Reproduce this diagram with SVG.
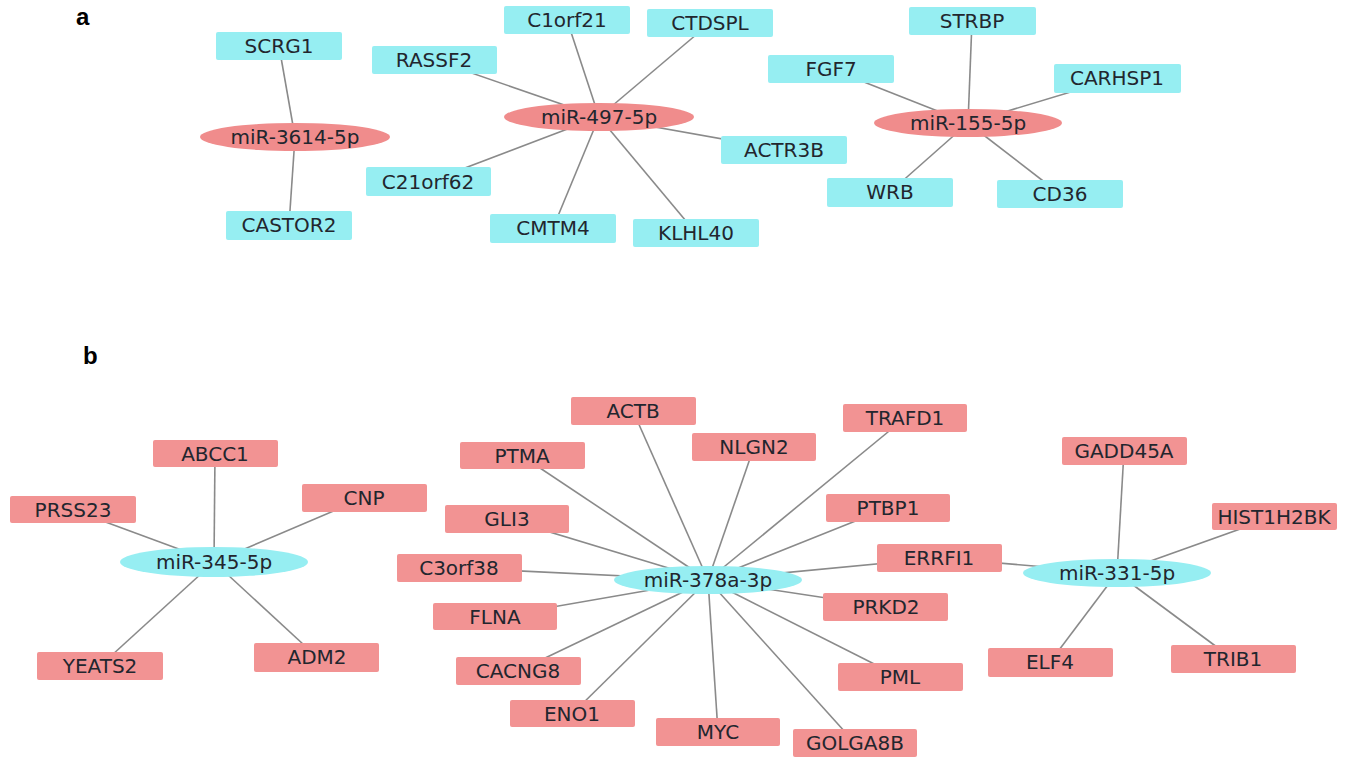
<svg xmlns="http://www.w3.org/2000/svg" width="1348" height="757" viewBox="0 0 1348 757">
<style>
.bg{fill:#ffffff}
.cy{fill:#96eef2}
.pk{fill:#f29393}
.cye{fill:#96eef2}
.pke{fill:#f08c8c}
.t{font-family:"DejaVu Sans",Verdana,sans-serif;font-size:20px;fill:#22262e;text-anchor:middle}
.lab{font-family:"Liberation Sans",Arial,sans-serif;font-size:24px;font-weight:bold;fill:#000}
.e line{stroke:#8a8a8a;stroke-width:1.6}
</style>
<rect class="bg" x="0" y="0" width="1348" height="757"/>
<text class="lab" x="76" y="25">a</text>
<text class="lab" x="83" y="364">b</text>
<g id="connectors" class="e">
<line x1="295" y1="137" x2="279" y2="46"/>
<line x1="295" y1="137" x2="289" y2="225"/>
<line x1="599" y1="117" x2="434" y2="60"/>
<line x1="599" y1="117" x2="567" y2="20"/>
<line x1="599" y1="117" x2="710" y2="23"/>
<line x1="599" y1="117" x2="784" y2="150"/>
<line x1="599" y1="117" x2="428" y2="182"/>
<line x1="599" y1="117" x2="553" y2="228"/>
<line x1="599" y1="117" x2="696" y2="233"/>
<line x1="968" y1="123" x2="972" y2="21"/>
<line x1="968" y1="123" x2="831" y2="69"/>
<line x1="968" y1="123" x2="1117" y2="78"/>
<line x1="968" y1="123" x2="890" y2="192"/>
<line x1="968" y1="123" x2="1060" y2="194"/>
<line x1="214" y1="562" x2="215" y2="454"/>
<line x1="214" y1="562" x2="73" y2="510"/>
<line x1="214" y1="562" x2="364" y2="498"/>
<line x1="214" y1="562" x2="100" y2="666"/>
<line x1="214" y1="562" x2="317" y2="657"/>
<line x1="708" y1="580" x2="633" y2="411"/>
<line x1="708" y1="580" x2="905" y2="418"/>
<line x1="708" y1="580" x2="522" y2="456"/>
<line x1="708" y1="580" x2="754" y2="447"/>
<line x1="708" y1="580" x2="507" y2="519"/>
<line x1="708" y1="580" x2="888" y2="508"/>
<line x1="708" y1="580" x2="459" y2="568"/>
<line x1="708" y1="580" x2="939" y2="558"/>
<line x1="708" y1="580" x2="495" y2="617"/>
<line x1="708" y1="580" x2="886" y2="607"/>
<line x1="708" y1="580" x2="518" y2="671"/>
<line x1="708" y1="580" x2="900" y2="677"/>
<line x1="708" y1="580" x2="572" y2="714"/>
<line x1="708" y1="580" x2="718" y2="732"/>
<line x1="708" y1="580" x2="855" y2="743"/>
<line x1="1117" y1="573" x2="939" y2="558"/>
<line x1="1117" y1="573" x2="1124" y2="451"/>
<line x1="1117" y1="573" x2="1274" y2="517"/>
<line x1="1117" y1="573" x2="1050" y2="662"/>
<line x1="1117" y1="573" x2="1233" y2="659"/>
</g>
<!-- panel a -->
<g id="SCRG1"><rect class="cy" x="216" y="32" width="126" height="28" rx="2"/><text class="t" x="279" y="53">SCRG1</text></g>
<g id="miR-3614-5p"><ellipse class="pke" cx="295" cy="137" rx="95" ry="14"/><text class="t" x="295" y="144">miR-3614-5p</text></g>
<g id="CASTOR2"><rect class="cy" x="226" y="211" width="126" height="29" rx="2"/><text class="t" x="289" y="232">CASTOR2</text></g>
<g id="C1orf21"><rect class="cy" x="504" y="6" width="126" height="28" rx="2"/><text class="t" x="567" y="27">C1orf21</text></g>
<g id="CTDSPL"><rect class="cy" x="647" y="9" width="126" height="28" rx="2"/><text class="t" x="710" y="30">CTDSPL</text></g>
<g id="RASSF2"><rect class="cy" x="372" y="46" width="125" height="28" rx="2"/><text class="t" x="434" y="67">RASSF2</text></g>
<g id="miR-497-5p"><ellipse class="pke" cx="599" cy="117" rx="95" ry="14"/><text class="t" x="599" y="124">miR-497-5p</text></g>
<g id="ACTR3B"><rect class="cy" x="721" y="136" width="126" height="28" rx="2"/><text class="t" x="784" y="157">ACTR3B</text></g>
<g id="C21orf62"><rect class="cy" x="366" y="167" width="125" height="29" rx="2"/><text class="t" x="428" y="189">C21orf62</text></g>
<g id="CMTM4"><rect class="cy" x="490" y="214" width="126" height="29" rx="2"/><text class="t" x="553" y="235">CMTM4</text></g>
<g id="KLHL40"><rect class="cy" x="633" y="219" width="126" height="28" rx="2"/><text class="t" x="696" y="240">KLHL40</text></g>
<g id="STRBP"><rect class="cy" x="909" y="7" width="127" height="28" rx="2"/><text class="t" x="972" y="28">STRBP</text></g>
<g id="FGF7"><rect class="cy" x="768" y="55" width="126" height="28" rx="2"/><text class="t" x="831" y="76">FGF7</text></g>
<g id="CARHSP1"><rect class="cy" x="1054" y="64" width="127" height="29" rx="2"/><text class="t" x="1117" y="85">CARHSP1</text></g>
<g id="miR-155-5p"><ellipse class="pke" cx="968" cy="123" rx="94" ry="14"/><text class="t" x="968" y="130">miR-155-5p</text></g>
<g id="WRB"><rect class="cy" x="827" y="178" width="126" height="29" rx="2"/><text class="t" x="890" y="199">WRB</text></g>
<g id="CD36"><rect class="cy" x="997" y="180" width="126" height="28" rx="2"/><text class="t" x="1060" y="201">CD36</text></g>
<!-- panel b -->
<g id="ABCC1"><rect class="pk" x="153" y="440" width="125" height="27" rx="2"/><text class="t" x="215" y="461">ABCC1</text></g>
<g id="CNP"><rect class="pk" x="302" y="484" width="125" height="28" rx="2"/><text class="t" x="364" y="505">CNP</text></g>
<g id="PRSS23"><rect class="pk" x="10" y="496" width="126" height="27" rx="2"/><text class="t" x="73" y="517">PRSS23</text></g>
<g id="miR-345-5p"><ellipse class="cye" cx="214" cy="562" rx="94" ry="15"/><text class="t" x="214" y="569">miR-345-5p</text></g>
<g id="YEATS2"><rect class="pk" x="37" y="652" width="126" height="28" rx="2"/><text class="t" x="100" y="673">YEATS2</text></g>
<g id="ADM2"><rect class="pk" x="254" y="643" width="125" height="29" rx="2"/><text class="t" x="317" y="664">ADM2</text></g>
<g id="ACTB"><rect class="pk" x="571" y="397" width="125" height="28" rx="2"/><text class="t" x="633" y="418">ACTB</text></g>
<g id="TRAFD1"><rect class="pk" x="843" y="404" width="124" height="28" rx="2"/><text class="t" x="905" y="425">TRAFD1</text></g>
<g id="PTMA"><rect class="pk" x="460" y="442" width="125" height="27" rx="2"/><text class="t" x="522" y="463">PTMA</text></g>
<g id="NLGN2"><rect class="pk" x="692" y="433" width="124" height="28" rx="2"/><text class="t" x="754" y="454">NLGN2</text></g>
<g id="GLI3"><rect class="pk" x="445" y="505" width="124" height="28" rx="2"/><text class="t" x="507" y="526">GLI3</text></g>
<g id="PTBP1"><rect class="pk" x="826" y="494" width="124" height="28" rx="2"/><text class="t" x="888" y="515">PTBP1</text></g>
<g id="C3orf38"><rect class="pk" x="397" y="554" width="125" height="28" rx="2"/><text class="t" x="459" y="575">C3orf38</text></g>
<g id="ERRFI1"><rect class="pk" x="877" y="544" width="125" height="28" rx="2"/><text class="t" x="939" y="565">ERRFI1</text></g>
<g id="miR-378a-3p"><ellipse class="cye" cx="708" cy="580" rx="94" ry="14"/><text class="t" x="708" y="587">miR-378a-3p</text></g>
<g id="FLNA"><rect class="pk" x="433" y="603" width="124" height="27" rx="2"/><text class="t" x="495" y="624">FLNA</text></g>
<g id="PRKD2"><rect class="pk" x="823" y="593" width="125" height="28" rx="2"/><text class="t" x="886" y="614">PRKD2</text></g>
<g id="CACNG8"><rect class="pk" x="456" y="657" width="125" height="28" rx="2"/><text class="t" x="518" y="678">CACNG8</text></g>
<g id="PML"><rect class="pk" x="838" y="663" width="125" height="28" rx="2"/><text class="t" x="900" y="684">PML</text></g>
<g id="ENO1"><rect class="pk" x="510" y="700" width="125" height="27" rx="2"/><text class="t" x="572" y="721">ENO1</text></g>
<g id="MYC"><rect class="pk" x="656" y="718" width="124" height="28" rx="2"/><text class="t" x="718" y="739">MYC</text></g>
<g id="GOLGA8B"><rect class="pk" x="793" y="729" width="124" height="28" rx="2"/><text class="t" x="855" y="750">GOLGA8B</text></g>
<g id="GADD45A"><rect class="pk" x="1062" y="437" width="125" height="28" rx="2"/><text class="t" x="1124" y="458">GADD45A</text></g>
<g id="HIST1H2BK"><rect class="pk" x="1212" y="503" width="125" height="27" rx="2"/><text class="t" x="1274" y="524">HIST1H2BK</text></g>
<g id="miR-331-5p"><ellipse class="cye" cx="1117" cy="573" rx="94" ry="14"/><text class="t" x="1117" y="580">miR-331-5p</text></g>
<g id="ELF4"><rect class="pk" x="988" y="648" width="125" height="29" rx="2"/><text class="t" x="1050" y="669">ELF4</text></g>
<g id="TRIB1"><rect class="pk" x="1171" y="645" width="125" height="28" rx="2"/><text class="t" x="1233" y="666">TRIB1</text></g>
</svg>
